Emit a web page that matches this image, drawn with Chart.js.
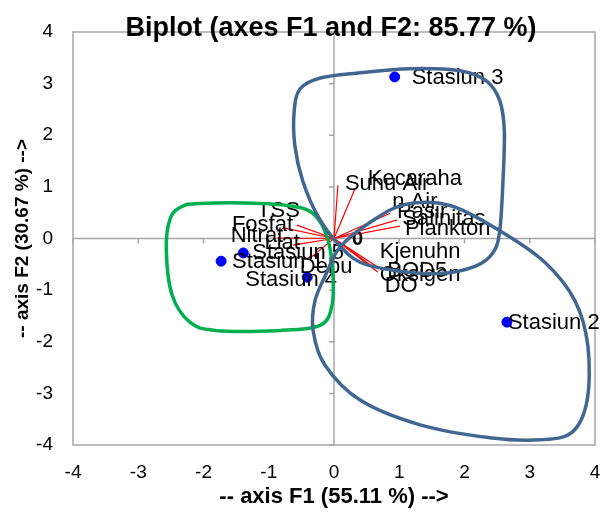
<!DOCTYPE html>
<html>
<head>
<meta charset="utf-8">
<script src="https://cdn.jsdelivr.net/npm/chart.js@4.4.1/dist/chart.umd.min.js"></script>
<style>
  html, body { margin: 0; padding: 0; background: #ffffff; }
  #wrap { width: 601px; height: 512px; }
</style>
</head>
<body>
<div id="wrap"><canvas id="biplot" width="601" height="512"></canvas></div>
<script>
// ---- Observations (factor scores on F1 / F2) ----
const stationNames = ['Stasiun 1', 'Stasiun 2', 'Stasiun 3', 'Stasiun 4', 'Stasiun 5'];
const stationF1 = [-1.73, 2.65, 0.93, -0.41, -1.39];
const stationF2 = [-0.44, -1.62, 3.13, -0.75, -0.28];

// ---- Variables (loadings on F1 / F2) ----
const variableNames = [
  ['Suhu Air'], ['Kecaraha', 'n Air'], ['Pasir'], ['Salinitas'], ['Plankton'],
  ['TSS'], ['Fosfat'], ['Nitrat'], ['Liat'], ['Debu'],
  ['Kjenuhn', 'Oksigen'], ['BOD5'], ['DO']
];
const variableF1 = [0.06, 0.32, 0.86, 0.97, 1.01, -0.57, -0.75, -0.87, -0.63, -0.37, 0.60, 0.74, 0.67];
const variableF2 = [1.03, 0.96, 0.49, 0.36, 0.24, 0.26, 0.20, 0.01, -0.13, -0.38, -0.55, -0.61, -0.65];

// ---- Axis ticks ----
const tickValues = [-4, -3, -2, -1, 0, 1, 2, 3, 4];

// ---- Hand-drawn group outlines (closed curves, in F1 / F2 units) ----
const upperGroupF1 = [-0.61, -0.52, -0.21, 0.40, 1.16, 1.93, 2.34, 2.54, 2.61, 2.59, 2.54, 2.44, 2.16, 1.62, 0.93, 0.40, 0.06, -0.25, -0.48, -0.60];
const upperGroupF2 = [2.47, 2.90, 3.11, 3.21, 3.29, 3.25, 3.05, 2.67, 2.09, 1.12, 0.15, -0.27, -0.54, -0.68, -0.62, -0.46, -0.10, 0.44, 1.12, 1.80];
const lowerGroupF1 = [-0.11, 0.09, 0.55, 1.09, 1.78, 2.54, 3.23, 3.69, 3.89, 3.88, 3.65, 3.16, 2.39, 1.32, 0.40, -0.14, -0.32, -0.29];
const lowerGroupF2 = [-0.66, -0.17, 0.31, 0.66, 0.64, 0.15, -0.46, -1.20, -2.07, -3.13, -3.75, -3.90, -3.86, -3.61, -3.13, -2.45, -1.78, -1.20];
const leftGroupF1 = [-2.05, -1.13, -0.52, -0.25, -0.09, -0.02, -0.03, -0.21, -0.83, -1.82, -2.21, -2.48, -2.57, -2.51, -2.33];
const leftGroupF2 = [0.68, 0.68, 0.60, 0.39, -0.04, -0.62, -1.29, -1.68, -1.78, -1.78, -1.62, -1.10, -0.23, 0.39, 0.62];

// ---- Label placement (pixel offsets from the mark) ----
const stationLabelDX = [11, 1, 17, -62, 9];
const stationLabelDY = [1, 1, 1, 3, 0];
const variableLabelDX = [7, 60, 7, 5, 5, 3, 8, 6, 7, -10, 47, 5, 7];
const variableLabelDY = [-1, -10, -1, -1, 3, -14, -3, -2, -2, 9, -15, 1, 14];
const variableLabelAlign = ['left', 'center', 'left', 'left', 'left', 'right', 'right', 'right', 'right', 'left', 'center', 'left', 'left'];

const FONT = '"Liberation Sans", Arial, sans-serif';
Chart.defaults.font.family = FONT;

const AXIS_GREY = '#a6a6a6';
const VECTOR_RED = '#ff0000';
const OUTLINE_BLUE = '#416790';
const OUTLINE_GREEN = '#00b050';

function closedSpline(ctx, pts) {
  const n = pts.length;
  ctx.beginPath();
  ctx.moveTo(pts[0].x, pts[0].y);
  for (let i = 0; i < n; i++) {
    const p0 = pts[(i - 1 + n) % n], p1 = pts[i], p2 = pts[(i + 1) % n], p3 = pts[(i + 2) % n];
    const c1x = p1.x + (p2.x - p0.x) / 6, c1y = p1.y + (p2.y - p0.y) / 6;
    const c2x = p2.x - (p3.x - p1.x) / 6, c2y = p2.y - (p3.y - p1.y) / 6;
    ctx.bezierCurveTo(c1x, c1y, c2x, c2y, p2.x, p2.y);
  }
  ctx.closePath();
}

const biplotPlugin = {
  id: 'biplotDecor',
  beforeDatasetsDraw(chart) {
    const { ctx, chartArea: a, scales: { x, y } } = chart;
    const x0 = x.getPixelForValue(0), y0 = y.getPixelForValue(0);
    ctx.save();
    // zero lines with small ticks
    ctx.strokeStyle = AXIS_GREY;
    ctx.lineWidth = 1.5;
    ctx.beginPath();
    ctx.moveTo(a.left, y0); ctx.lineTo(a.right, y0);
    ctx.moveTo(x0, a.top); ctx.lineTo(x0, a.bottom);
    tickValues.forEach(v => {
      const px = x.getPixelForValue(v), py = y.getPixelForValue(v);
      ctx.moveTo(px, y0); ctx.lineTo(px, y0 + 5);
      ctx.moveTo(x0, py); ctx.lineTo(x0 - 5, py);
    });
    ctx.stroke();
    // frame
    ctx.strokeRect(a.left, a.top, a.right - a.left, a.bottom - a.top);
    // variable vectors
    ctx.strokeStyle = VECTOR_RED;
    ctx.lineWidth = 1.2;
    ctx.beginPath();
    variableF1.forEach((v, i) => {
      ctx.moveTo(x0, y0);
      ctx.lineTo(x.getPixelForValue(v), y.getPixelForValue(variableF2[i]));
    });
    ctx.stroke();
    ctx.restore();
  },
  afterDatasetsDraw(chart) {
    const { ctx, scales: { x, y } } = chart;
    ctx.save();
    ctx.fillStyle = '#000';
    ctx.font = '22px ' + FONT;
    ctx.textBaseline = 'middle';
    // variable labels
    variableNames.forEach((lines, i) => {
      const px = x.getPixelForValue(variableF1[i]) + variableLabelDX[i];
      const py = y.getPixelForValue(variableF2[i]) + variableLabelDY[i];
      ctx.textAlign = variableLabelAlign[i];
      lines.forEach((t, k) => ctx.fillText(t, px, py + k * 23));
    });
    // observation labels
    ctx.textAlign = 'left';
    stationNames.forEach((t, i) => {
      ctx.fillText(t, x.getPixelForValue(stationF1[i]) + stationLabelDX[i], y.getPixelForValue(stationF2[i]) + stationLabelDY[i]);
    });
    // origin marker
    ctx.font = 'bold 20px ' + FONT;
    ctx.fillText('0', x.getPixelForValue(0) + 18, y.getPixelForValue(0) + 1);
    // group outlines
    const toPts = (fx, fy) => fx.map((v, i) => ({ x: x.getPixelForValue(v), y: y.getPixelForValue(fy[i]) }));
    ctx.lineWidth = 3.5;
    ctx.lineJoin = 'round';
    ctx.strokeStyle = OUTLINE_GREEN;
    closedSpline(ctx, toPts(leftGroupF1, leftGroupF2));
    ctx.stroke();
    ctx.strokeStyle = OUTLINE_BLUE;
    closedSpline(ctx, toPts(upperGroupF1, upperGroupF2));
    ctx.stroke();
    closedSpline(ctx, toPts(lowerGroupF1, lowerGroupF2));
    ctx.stroke();
    ctx.restore();
  },
  afterDraw(chart) {
    const { ctx } = chart;
    ctx.save();
    ctx.fillStyle = '#000';
    ctx.font = 'bold 27px ' + FONT;
    ctx.textAlign = 'center';
    ctx.textBaseline = 'alphabetic';
    ctx.fillText('Biplot (axes F1 and F2: 85.77 %)', 331, 36);
    ctx.restore();
  }
};

new Chart(document.getElementById('biplot'), {
  type: 'scatter',
  data: {
    datasets: [{
      label: 'Observations',
      data: stationF1.map((v, i) => ({ x: v, y: stationF2[i] })),
      backgroundColor: '#0000ff',
      borderColor: '#0000ff',
      pointRadius: 5,
      pointHoverRadius: 5
    }]
  },
  options: {
    responsive: false,
    animation: false,
    events: [],
    layout: { padding: { top: 32, right: 6, left: 0, bottom: 0 } },
    plugins: { legend: { display: false }, tooltip: { enabled: false }, title: { display: false } },
    scales: {
      x: {
        type: 'linear', min: -4, max: 4,
        afterBuildTicks: s => { s.ticks = tickValues.map(v => ({ value: v })); },
        ticks: { color: '#000', font: { size: 19 }, padding: 16, maxRotation: 0 },
        grid: { display: false, drawTicks: false },
        border: { display: false },
        title: { display: true, text: '-- axis F1 (55.11 %) -->', color: '#000', font: { size: 22, weight: 'bold' }, padding: { top: 0, bottom: 2 } },
        afterFit: s => { s.height = 67; s.paddingLeft = 0; s.paddingRight = 0; }
      },
      y: {
        type: 'linear', min: -4, max: 4,
        afterBuildTicks: s => { s.ticks = tickValues.map(v => ({ value: v })); },
        ticks: { color: '#000', font: { size: 19 }, padding: 20 },
        grid: { display: false, drawTicks: false },
        border: { display: false },
        title: { display: true, text: '-- axis F2 (30.67 %) -->', color: '#000', font: { size: 19, weight: 'bold' }, padding: { top: 11, bottom: 0 } },
        afterFit: s => { s.width = 73; s.paddingTop = 0; s.paddingBottom = 0; }
      }
    }
  },
  plugins: [biplotPlugin]
});
</script>
</body>
</html>
